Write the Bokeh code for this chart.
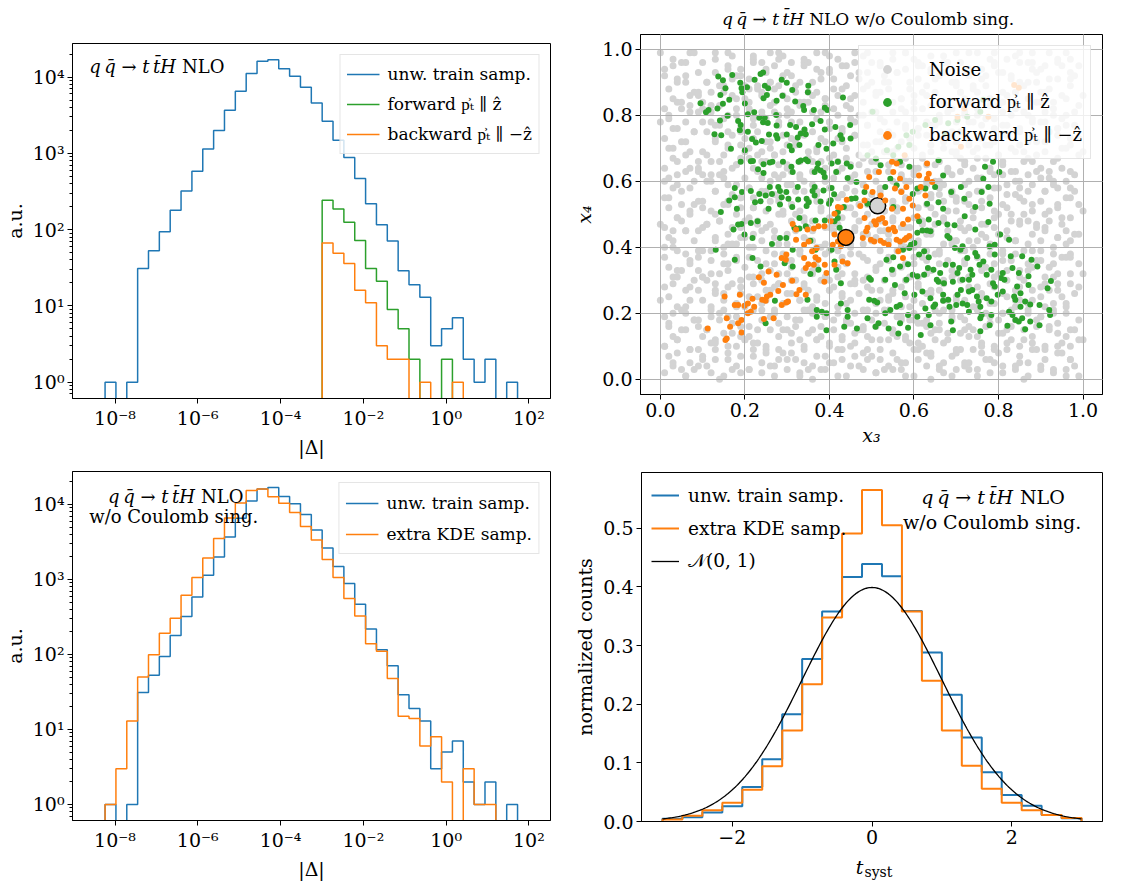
import numpy as np
from bokeh.plotting import figure
from bokeh.models import (FixedTicker, CustomJSTickFormatter, NumeralTickFormatter,
                          Legend, LegendItem, Label, Range1d)
from bokeh.layouts import row, column
from bokeh.embed import file_html
from bokeh.resources import INLINE

FONT = "DejaVu Serif"
BLUE = "#1f77b4"
ORANGE = "#ff7f0e"
GREEN = "#2ca02c"
GRAY = "#d3d3d3"

# ---------------- histogram data (|Delta|, log bins) ----------------
log_bin_lo, log_bin_hi, n_log_bins = -8.24, 1.726, 38
train_counts = [1, 0, 1, 31, 53, 94, 179, 321, 582, 1142,
                1990, 3673, 6530, 11130, 16150, 16830, 12820, 10270, 7370, 4580,
                2637, 1486, 881, 467, 219, 116, 71, 29, 19, 13,
                3, 5, 7, 2, 1, 2, 0, 1]
forward_counts = [0, 0, 0, 0, 0, 0, 0, 0, 0, 0,
                  0, 0, 0, 0, 0, 0, 0, 0, 0, 0,
                  243, 186, 125, 72, 31, 21, 9, 5, 2, 0,
                  0, 2, 0, 0, 0, 0, 0, 0]
backward_counts = [0, 0, 0, 0, 0, 0, 0, 0, 0, 0,
                   0, 0, 0, 0, 0, 0, 0, 0, 0, 0,
                   67, 49, 36, 16, 11, 3, 2, 2, 0, 1,
                   0, 0, 1, 0, 0, 0, 0, 0]
kde_counts = [1, 3, 13, 50, 99, 192, 305, 618, 1065, 1928,
              3530, 6590, 10470, 15360, 16150, 12680, 10370, 7820, 5070, 3355,
              1853, 1065, 559, 327, 139, 110, 48, 15, 14, 6,
              8, 2, 0, 3, 1, 1, 0, 0]

# ---------------- t_syst histograms ----------------
t_lo, t_hi, n_t_bins = -3.0, 3.0, 21
t_train = [0.0045, 0.0074, 0.0153, 0.026, 0.059, 0.106, 0.183, 0.277, 0.358, 0.417, 0.439,
           0.418, 0.359, 0.288, 0.216, 0.143, 0.084, 0.045, 0.027, 0.011, 0.0057]
t_kde = [0.0034, 0.010, 0.019, 0.032, 0.054, 0.094, 0.155, 0.234, 0.348, 0.491, 0.565,
         0.505, 0.358, 0.240, 0.155, 0.095, 0.056, 0.032, 0.019, 0.011, 0.006]

# ---------------- scatter data (x3, x4) ----------------
forward_pts = [
 (0.137,0.918),(0.148,0.906),(0.170,0.922),(0.154,0.882),(0.142,0.862),(0.163,0.847),(0.148,0.835),(0.095,0.837),
 (0.108,0.809),(0.114,0.816),(0.135,0.821),(0.189,0.899),(0.192,0.882),(0.194,0.870),(0.205,0.885),(0.223,0.908),
 (0.237,0.925),(0.243,0.930),(0.247,0.890),(0.255,0.882),(0.244,0.852),(0.252,0.862),(0.287,0.908),(0.299,0.899),
 (0.312,0.877),(0.289,0.859),(0.275,0.844),(0.319,0.842),(0.350,0.890),(0.349,0.870),(0.338,0.828),(0.340,0.816),
 (0.363,0.816),(0.389,0.823),(0.395,0.816),(0.432,0.854),(0.200,0.836),(0.207,0.803),(0.222,0.809),(0.234,0.793),
 (0.247,0.793),(0.243,0.779),(0.254,0.777),(0.274,0.801),(0.275,0.769),(0.307,0.771),(0.321,0.765),(0.341,0.757),
 (0.359,0.773),(0.379,0.783),(0.389,0.757),(0.414,0.765),(0.426,0.740),(0.449,0.771),(0.128,0.743),(0.144,0.740),
 (0.141,0.784),(0.159,0.799),(0.184,0.783),(0.190,0.771),(0.188,0.755),(0.207,0.750),(0.217,0.728),(0.240,0.722),
 (0.226,0.718),(0.257,0.742),(0.274,0.740),(0.277,0.730),(0.299,0.742),(0.306,0.707),(0.311,0.694),(0.325,0.733),
 (0.332,0.745),(0.344,0.743),(0.329,0.710),(0.374,0.710),(0.393,0.699),(0.409,0.715),(0.430,0.728),(0.450,0.730),
 (0.200,0.694),(0.167,0.699),(0.190,0.659),(0.214,0.661),(0.219,0.662),(0.231,0.637),(0.244,0.652),(0.259,0.657),
 (0.265,0.659),(0.244,0.625),(0.290,0.659),(0.310,0.644),(0.313,0.628),(0.327,0.659),(0.332,0.663),(0.344,0.666),
 (0.349,0.661),(0.373,0.654),(0.371,0.639),(0.379,0.633),(0.386,0.626),(0.389,0.613),(0.365,0.628),(0.405,0.654),
 (0.420,0.659),(0.441,0.654),(0.450,0.644),(0.443,0.610),(0.464,0.598),(0.416,0.628),(0.176,0.580),(0.193,0.568),
 (0.176,0.552),(0.163,0.542),(0.181,0.517),(0.214,0.571),(0.234,0.562),(0.249,0.557),(0.259,0.583),(0.264,0.562),
 (0.279,0.583),(0.283,0.571),(0.287,0.552),(0.283,0.530),(0.298,0.568),(0.303,0.547),(0.312,0.522),(0.326,0.545),
 (0.325,0.583),(0.346,0.547),(0.351,0.537),(0.360,0.571),(0.365,0.583),(0.365,0.557),(0.379,0.539),(0.386,0.572),
 (0.405,0.580),(0.411,0.561),(0.403,0.543),(0.434,0.522),(0.452,0.547),(0.462,0.549),(0.143,0.507),(0.224,0.537),
 (0.256,0.517),(0.237,0.540),(0.346,0.525),(0.399,0.532),(0.420,0.507),
 (0.658,0.474),(0.679,0.469),(0.696,0.467),(0.720,0.494),(0.745,0.454),(0.776,0.477),(0.631,0.451),(0.639,0.449),
 (0.620,0.451),(0.608,0.444),(0.601,0.413),(0.684,0.428),(0.679,0.434),(0.697,0.398),(0.715,0.403),(0.710,0.393),
 (0.745,0.383),(0.749,0.373),(0.779,0.403),(0.791,0.408),(0.825,0.423),(0.804,0.439),(0.791,0.378),(0.829,0.373),
 (0.856,0.373),(0.878,0.362),(0.892,0.342),(0.871,0.312),(0.848,0.322),(0.833,0.337),(0.810,0.322),(0.806,0.307),
 (0.783,0.332),(0.772,0.317),(0.764,0.357),(0.755,0.347),(0.734,0.332),(0.726,0.368),(0.707,0.337),(0.703,0.322),
 (0.692,0.347),(0.675,0.347),(0.662,0.322),(0.654,0.302),(0.646,0.332),(0.633,0.337),(0.624,0.317),(0.635,0.370),
 (0.624,0.388),(0.612,0.378),(0.589,0.398),(0.593,0.408),(0.574,0.393),(0.586,0.349),(0.567,0.342),(0.551,0.370),
 (0.535,0.362),(0.548,0.332),(0.532,0.302),(0.494,0.307),(0.498,0.302),(0.555,0.286),(0.582,0.302),(0.608,0.312),
 (0.597,0.317),(0.578,0.261),(0.601,0.256),(0.620,0.266),(0.639,0.246),(0.669,0.256),(0.681,0.241),(0.703,0.256),
 (0.711,0.271),(0.730,0.266),(0.738,0.271),(0.749,0.251),(0.753,0.236),(0.757,0.220),(0.772,0.246),(0.783,0.236),
 (0.791,0.281),(0.798,0.256),(0.810,0.266),(0.787,0.291),(0.814,0.302),(0.837,0.251),(0.840,0.241),(0.852,0.261),
 (0.863,0.236),(0.852,0.220),(0.875,0.227),(0.897,0.225),(0.920,0.210),(0.922,0.195),(0.916,0.276),(0.924,0.298),
 (0.871,0.286),(0.844,0.281),(0.825,0.205),(0.833,0.195),(0.840,0.180),(0.856,0.185),(0.848,0.175),(0.875,0.175),
 (0.897,0.164),(0.863,0.152),(0.821,0.162),(0.783,0.195),(0.779,0.164),(0.757,0.185),(0.760,0.195),(0.730,0.205),
 (0.726,0.225),(0.715,0.230),(0.700,0.225),(0.684,0.220),(0.669,0.238),(0.688,0.175),(0.692,0.149),(0.757,0.146),
 (0.635,0.195),(0.639,0.164),(0.646,0.220),(0.627,0.215),(0.608,0.190),(0.586,0.195),(0.567,0.225),(0.559,0.220),
 (0.544,0.210),(0.532,0.200),(0.506,0.238),(0.513,0.233),(0.494,0.241),(0.490,0.185),(0.509,0.159),(0.516,0.170),
 (0.540,0.154),(0.563,0.139),(0.567,0.170),(0.586,0.156),(0.616,0.134),(0.650,0.227),(0.671,0.291),(0.658,0.296),
 (0.692,0.296),(0.715,0.302),(0.730,0.302),(0.738,0.317),(0.612,0.479),(0.635,0.484),
 (0.173,0.454),(0.184,0.469),(0.192,0.471),(0.199,0.439),(0.214,0.474),(0.218,0.428),(0.230,0.479),(0.131,0.393),
 (0.176,0.362),(0.218,0.368),(0.237,0.342),(0.264,0.410),(0.283,0.428),(0.298,0.428),(0.313,0.393),(0.317,0.459),
 (0.329,0.457),(0.344,0.464),(0.355,0.420),(0.367,0.481),(0.389,0.481),(0.412,0.479),(0.420,0.489),(0.424,0.459),
 (0.367,0.393),(0.374,0.332),(0.412,0.357),(0.416,0.332),(0.427,0.291),(0.355,0.319),(0.348,0.241),(0.370,0.210),
 (0.370,0.190),(0.382,0.205),(0.393,0.200),(0.393,0.149),(0.427,0.230),(0.443,0.210),(0.443,0.190),(0.435,0.159),
 (0.465,0.154),(0.249,0.170),(0.271,0.238),(0.313,0.342),(0.294,0.352),(0.329,0.489),(0.405,0.393),
 (0.502,0.811),(0.490,0.679),(0.510,0.669),(0.521,0.649),(0.551,0.679),(0.567,0.659),(0.589,0.644),(0.608,0.578),
 (0.597,0.562),(0.627,0.578),(0.650,0.583),(0.658,0.537),(0.669,0.517),(0.631,0.532),(0.658,0.664),(0.669,0.618),
 (0.688,0.568),(0.711,0.583),(0.719,0.547),(0.745,0.522),(0.760,0.568),(0.764,0.608),(0.768,0.644),(0.776,0.583),
 (0.779,0.532),(0.787,0.659),(0.802,0.628),(0.483,0.568),(0.490,0.532),(0.544,0.608),(0.532,0.583),(0.559,0.588),
 (0.551,0.522),(0.582,0.740),(0.597,0.750),(0.627,0.771),(0.650,0.786),(0.681,0.776),(0.703,0.786),(0.726,0.796),
 (0.757,0.811),(0.764,0.847),(0.673,0.745),(0.589,0.710),(0.563,0.705),(0.536,0.694),
]

backward_pts = [
 (0.313,0.471),(0.321,0.454),(0.348,0.454),(0.363,0.457),(0.374,0.464),(0.388,0.464),(0.403,0.479),(0.412,0.439),
 (0.408,0.408),(0.420,0.418),(0.427,0.403),(0.321,0.423),(0.340,0.408),(0.351,0.418),(0.359,0.388),(0.370,0.398),
 (0.374,0.362),(0.367,0.370),(0.350,0.349),(0.340,0.368),(0.363,0.347),(0.344,0.337),(0.389,0.347),(0.393,0.322),
 (0.388,0.296),(0.412,0.347),(0.431,0.357),(0.443,0.352),(0.298,0.378),(0.287,0.368),(0.297,0.362),(0.256,0.327),
 (0.275,0.317),(0.233,0.309),(0.245,0.293),(0.290,0.286),(0.312,0.299),(0.329,0.271),(0.344,0.256),(0.322,0.258),
 (0.279,0.268),(0.260,0.256),(0.241,0.241),(0.249,0.238),(0.218,0.244),(0.207,0.230),(0.188,0.256),(0.152,0.251),
 (0.176,0.225),(0.184,0.225),(0.199,0.223),(0.207,0.200),(0.214,0.205),(0.222,0.220),(0.192,0.180),(0.184,0.170),
 (0.157,0.185),(0.165,0.159),(0.192,0.142),(0.154,0.119),(0.157,0.124),(0.112,0.154),(0.245,0.183),(0.268,0.185),
 (0.287,0.225),(0.298,0.233),(0.302,0.236),(0.252,0.251),
 (0.483,0.489),(0.490,0.459),(0.487,0.449),(0.506,0.479),(0.510,0.469),(0.517,0.484),(0.525,0.489),(0.532,0.474),
 (0.540,0.454),(0.551,0.459),(0.555,0.449),(0.574,0.471),(0.582,0.428),(0.578,0.423),(0.589,0.434),(0.586,0.484),
 (0.608,0.494),(0.479,0.428),(0.498,0.423),(0.506,0.418),(0.521,0.420),(0.529,0.413),(0.540,0.408),(0.563,0.388),
 (0.574,0.368),(0.559,0.423),(0.567,0.418),
 (0.578,0.679),(0.559,0.654),(0.548,0.659),(0.551,0.628),(0.567,0.608),(0.582,0.583),(0.555,0.578),(0.570,0.568),
 (0.589,0.547),(0.517,0.628),(0.494,0.613),(0.487,0.583),(0.502,0.568),(0.521,0.557),(0.483,0.542),(0.532,0.542),
 (0.548,0.517),(0.574,0.517),(0.597,0.527),(0.631,0.654),(0.635,0.623),(0.631,0.608),(0.643,0.598),(0.612,0.618),
 (0.616,0.583),(0.627,0.557),(0.711,0.705),(0.703,0.796),(0.719,0.821),(0.776,0.796),(0.837,0.892),(0.848,0.884),
 (0.441,0.544),(0.420,0.522),(0.427,0.520),(0.473,0.525),(0.412,0.502),
]

# marked points (x3, x4): one in the noise set, one in the backward set
noise_mark_x, noise_mark_y = [0.514], [0.526]
backward_mark_x, backward_mark_y = [0.439], [0.430]

# noise points (percent), read along horizontal strips: x positions and their y
noise_row_x = [
 [1,6,8,14,19,21,27,33,36,38,44,51,53,58,64,67,73,75,81,86,90,96],
 [3,5,11,13,17,24,26,30,35,41,43,47,55,57,61,66,70,72,78,84,87,93,98],
 [2,7,10,16,22,25,29,32,39,42,48,50,56,60,63,69,74,77,80,85,89,95,97],
 [1,4,9,12,18,20,23,28,34,37,40,45,49,54,59,62,65,71,76,79,83,88,91,94,99],
 [3,6,13,15,21,26,31,33,36,43,46,52,55,58,64,68,72,75,81,86,92,96],
 [2,8,11,17,19,24,28,30,38,41,44,48,51,57,61,66,69,73,78,82,84,89,94,97],
 [1,5,9,14,16,22,27,32,35,39,46,50,53,56,60,63,67,71,77,80,87,90,93,99],
 [4,7,12,18,20,25,29,34,37,42,44,49,54,59,62,65,70,74,79,83,85,91,96],
 [2,6,10,15,23,26,31,33,40,43,47,52,55,58,64,68,73,76,81,88,92,95,98],
 [1,8,13,17,19,24,28,35,38,41,45,50,53,57,61,66,71,75,78,84,86,90,94],
 [3,5,11,14,21,26,30,32,36,39,46,48,55,59,63,67,69,73,80,82,87,93,97],
 [2,7,9,16,20,23,27,34,37,42,44,51,54,57,60,64,72,77,79,85,89,92,99],
 [1,4,12,15,18,25,29,31,40,43,47,49,56,62,65,68,71,75,81,83,88,95,97],
 [3,8,10,17,22,24,28,33,36,38,45,52,54,58,61,66,70,74,78,86,90,93,96],
 [2,6,13,16,20,27,30,35,41,44,48,50,53,59,63,69,72,77,80,84,91,94,98],
 [1,5,9,11,19,23,26,32,34,39,42,46,55,57,62,64,67,73,76,82,87,89,95],
 [4,7,14,18,21,25,29,36,38,43,49,52,56,60,65,71,74,79,83,85,92,97],
 [2,9,12,15,22,28,31,33,40,45,47,53,58,61,63,68,70,76,81,88,90,94,99],
 [1,5,10,17,19,24,27,35,37,42,50,55,57,64,66,72,75,78,84,86,91,96],
 [3,8,13,16,21,26,30,32,39,44,48,52,59,62,67,69,73,80,82,87,93,97],
 [2,6,11,14,20,23,29,34,36,41,46,51,54,57,60,65,71,76,79,85,89,92,98],
 [1,4,9,18,22,25,28,31,38,43,45,49,56,61,63,68,72,74,81,83,88,95],
 [3,7,12,15,19,24,27,33,35,40,47,50,53,58,62,66,70,77,80,86,91,94,99],
 [2,5,10,16,21,26,30,37,39,44,48,55,57,60,64,69,73,75,78,84,89,96],
 [1,8,13,17,20,23,29,32,34,42,46,51,54,59,63,67,71,76,82,87,92,97],
 [4,6,11,14,19,25,28,36,40,43,49,52,56,61,65,69,74,79,81,85,90,94,98],
 [2,9,12,16,22,27,30,33,38,45,47,53,58,60,66,70,72,77,83,88,91,95],
 [1,5,7,14,18,21,26,31,35,41,44,50,55,62,64,68,73,75,80,86,89,93,99],
 [3,8,10,17,20,24,29,34,37,39,46,48,52,57,60,67,71,78,82,84,91,96],
 [2,6,12,15,23,26,28,32,36,43,49,51,54,59,63,65,70,74,77,81,87,92,97],
 [4,9,11,18,21,25,31,33,38,41,45,53,56,61,66,69,72,76,83,85,89,94,98],
 [1,5,13,16,19,24,27,30,35,40,44,47,50,58,62,64,68,73,79,81,88,90,95],
 [3,7,10,17,22,26,29,34,39,42,48,52,55,60,67,71,75,78,84,87,92,97],
]
noise_row_y = [
 [2,1,3,0,2,3,1,2,0,3,1,2,3,1,0,2,3,1,2,0,3,1],
 [5,3,4,6,3,5,4,6,3,5,6,4,3,5,6,4,3,5,6,4,5,3,4],
 [7,9,6,8,7,9,8,6,7,9,8,7,6,9,8,7,9,6,8,7,9,8,6],
 [10,12,9,11,10,12,11,9,10,12,11,10,9,12,11,10,12,9,11,10,12,11,9,10,12],
 [13,15,12,14,13,15,14,12,15,13,14,12,15,13,14,12,15,13,14,12,15,13],
 [16,18,15,17,16,18,17,15,16,18,17,15,16,18,17,15,18,16,17,15,18,16,17,15],
 [19,21,18,20,19,21,20,18,21,19,20,18,21,19,20,18,21,19,20,18,21,19,20,18],
 [22,24,21,23,22,24,23,21,24,22,23,21,24,22,23,21,24,22,23,21,24,22,23],
 [25,27,24,26,25,27,26,24,27,25,26,24,27,25,26,24,27,25,26,24,27,25,26],
 [28,30,27,29,28,30,29,27,30,28,29,27,30,28,29,27,30,28,29,27,30,28,29],
 [31,33,30,32,31,33,32,30,33,31,32,30,33,31,32,30,33,31,32,30,33,31,32],
 [34,36,33,35,34,36,35,33,36,34,35,33,36,34,35,33,36,34,35,33,36,34,35],
 [37,39,36,38,37,39,38,36,39,37,38,36,39,37,38,36,39,37,38,36,39,37,38],
 [40,42,39,41,40,42,41,39,42,40,41,39,42,40,41,39,42,40,41,39,42,40,41],
 [43,45,42,44,43,45,44,42,45,43,44,42,45,43,44,42,45,43,44,42,45,43,44],
 [46,48,45,47,46,48,47,45,48,46,47,45,48,46,47,45,48,46,47,45,48,46,47],
 [49,51,48,50,49,51,50,48,51,49,50,48,51,49,50,48,51,49,50,48,51,49],
 [52,54,51,53,52,54,53,51,54,52,53,51,54,52,53,51,54,52,53,51,54,52,53],
 [55,57,54,56,55,57,56,54,57,55,56,54,57,55,56,54,57,55,56,54,57,55],
 [58,60,57,59,58,60,59,57,60,58,59,57,60,58,59,57,60,58,59,57,60,58],
 [61,63,60,62,61,63,62,60,63,61,62,60,63,61,62,60,63,61,62,60,63,61,62],
 [64,66,63,65,64,66,65,63,66,64,65,63,66,64,65,63,66,64,65,63,66,64],
 [67,69,66,68,67,69,68,66,69,67,68,66,69,67,68,66,69,67,68,66,69,67,68],
 [70,72,69,71,70,72,71,69,72,70,71,69,72,70,71,69,72,70,71,69,72,70],
 [73,75,72,74,73,75,74,72,75,73,74,72,75,73,74,72,75,73,74,72,75,73],
 [76,78,75,77,76,78,77,75,78,76,77,75,78,76,77,75,78,76,77,75,78,76,77],
 [79,81,78,80,79,81,80,78,81,79,80,78,81,79,80,78,81,79,80,78,81,79],
 [82,84,81,83,82,84,83,81,84,82,83,81,84,82,83,81,84,82,83,81,84,82,83],
 [85,87,84,86,85,87,86,84,87,85,86,84,87,85,86,84,87,85,86,84,87,85],
 [88,90,87,89,88,90,89,87,90,88,89,87,90,88,89,87,90,88,89,87,90,88,89],
 [91,93,90,92,91,93,92,90,93,91,92,90,93,91,92,90,93,91,92,90,93,91,92],
 [94,96,93,95,94,96,95,93,96,94,95,93,96,94,95,93,96,94,95,93,96,94,95],
 [97,99,96,98,97,99,98,96,99,97,98,96,99,97,98,96,99,97,98,96,99,97],
]
# noise points (percent), read along vertical strips: y positions and their x
noise_col_y = [
 [4,10,12,17,24,29,31,40,42,47,49,55,60,62,70,78,80,84,92,95,99],
 [1,8,9,15,20,22,28,33,38,45,50,53,59,64,68,76,82,86,90,96],
 [4,5,13,18,20,27,31,35,37,45,46,53,58,62,66,72,75,82,83,87,92,99],
 [2,7,11,15,16,22,26,31,32,39,43,47,52,57,60,64,68,73,78,81,86,90,97],
 [1,9,10,18,19,24,28,29,35,39,41,48,50,54,61,62,66,70,77,79,83,89,94,99],
 [4,6,13,14,21,22,26,33,36,40,43,46,53,55,59,63,64,71,75,80,87,91,92,99],
 [3,7,11,12,19,25,29,30,37,41,44,48,52,55,58,65,69,73,75,82,85,89,96],
 [2,9,10,15,16,23,27,31,32,40,46,47,52,56,61,67,68,72,77,81,88,89,94,98],
 [4,8,13,19,21,28,29,35,38,45,50,54,57,61,62,66,70,78,79,84,86,90,97],
 [3,6,11,15,21,26,30,32,36,43,48,51,55,59,64,68,69,73,80,82,88,92,96,99],
 [1,8,9,16,19,24,28,34,38,41,43,50,53,57,61,65,71,75,78,84,85,89,95],
 [4,5,12,14,18,22,25,29,32,39,40,46,49,56,59,62,67,70,74,81,83,87,94,97],
 [3,7,10,13,20,23,27,34,38,45,46,52,54,58,60,66,73,78,79,85,86,91,93,99],
 [1,5,12,15,19,20,26,30,31,41,42,47,49,56,63,64,68,72,76,80,83,88,95,98],
 [4,9,11,18,22,24,29,32,38,39,46,52,56,57,61,66,67,74,75,82,86,89,96],
 [3,7,13,15,17,21,28,30,37,40,44,48,50,53,59,60,65,71,78,80,85,91,93,99],
 [2,6,9,12,16,23,27,31,34,41,45,47,54,58,63,67,69,72,77,81,88,90,95,99],
 [4,6,14,17,20,25,26,35,37,43,49,51,56,60,65,66,73,74,79,84,86,92,97],
 [3,8,12,13,21,22,30,32,40,44,46,52,53,60,62,69,70,76,81,82,88,93,99],
 [1,5,11,18,19,24,28,35,37,41,42,46,55,57,64,65,71,76,77,84,85,90,95,99],
 [4,9,8,17,18,26,27,31,39,40,44,48,49,56,59,63,67,69,74,78,82,87,94,96],
 [3,7,11,15,16,20,24,33,35,36,41,47,52,54,58,60,65,70,77,79,86,91,93,98],
 [1,5,9,14,17,21,25,29,31,38,42,45,49,55,56,60,64,68,73,74,78,83,89,96],
 [4,8,13,14,19,24,28,32,35,41,42,46,51,53,59,62,67,71,72,80,82,87,92,99],
 [3,5,10,15,18,22,26,31,37,39,44,49,56,57,61,65,69,73,78,80,85,89,94,99],
 [2,8,9,16,21,23,31,33,38,42,46,47,54,58,63,67,71,72,77,83,87,92,96],
 [4,5,11,14,19,20,25,28,36,40,43,50,51,56,62,64,68,74,79,81,85,93,97,99],
 [3,9,10,16,20,24,28,33,38,39,47,48,52,58,60,66,70,71,77,82,84,91,96],
 [1,5,13,15,22,23,27,31,35,42,44,50,55,59,62,63,69,74,76,80,87,89,94,99],
 [4,9,10,18,20,25,31,34,39,41,46,47,53,57,61,67,68,72,79,84,85,90,95,99],
 [2,6,14,16,19,23,27,29,35,36,43,48,50,58,59,64,63,74,78,80,87,91,96],
 [3,8,10,11,21,22,29,32,37,38,42,49,53,55,60,66,70,71,76,77,84,86,93,97],
 [1,6,12,15,20,28,32,37,44,45,51,57,63,69,73,80,81,86,91,95,99],
]
noise_col_x = [
 [3,1,4,2,0,3,4,1,3,0,4,2,1,4,3,0,2,4,1,3,0],
 [6,4,7,5,3,6,7,4,6,3,7,5,4,7,6,3,5,7,4,6],
 [9,7,10,8,6,9,10,7,9,6,10,8,7,10,9,6,8,10,7,9,6,8],
 [12,10,13,11,9,12,13,10,12,9,13,11,10,13,12,9,11,13,10,12,9,11,13],
 [15,13,16,14,12,15,16,13,15,12,16,14,13,16,15,12,14,16,13,15,12,14,16,13],
 [18,16,19,17,15,18,19,16,18,15,19,17,16,19,18,15,17,19,16,18,15,17,19,16],
 [21,19,22,20,18,21,22,19,21,18,22,20,19,22,21,18,20,22,19,21,18,20,22],
 [24,22,25,23,21,24,25,22,24,21,25,23,22,25,24,21,23,25,22,24,21,23,25,22],
 [27,25,28,26,24,27,28,25,27,24,28,26,25,28,27,24,26,28,25,27,24,26,28],
 [30,28,31,29,27,30,31,28,30,27,31,29,28,31,30,27,29,31,28,30,27,29,31,28],
 [33,31,34,32,30,33,34,31,33,30,34,32,31,34,33,30,32,34,31,33,30,32,34],
 [36,34,37,35,33,36,37,34,36,33,37,35,34,37,36,33,35,37,34,36,33,35,37,34],
 [39,37,40,38,36,39,40,37,39,36,40,38,37,40,39,36,38,40,37,39,36,38,40,37],
 [42,40,43,41,39,42,43,40,42,39,43,41,40,43,42,39,41,43,40,42,39,41,43,40],
 [45,43,46,44,42,45,46,43,45,42,46,44,43,46,45,42,44,46,43,45,42,44,46],
 [48,46,49,47,45,48,49,46,48,45,49,47,46,49,48,45,47,49,46,48,45,47,49,46],
 [51,49,52,50,48,51,52,49,51,48,52,50,49,52,51,48,50,52,49,51,48,50,52,49],
 [54,52,55,53,51,54,55,52,54,51,55,53,52,55,54,51,53,55,52,54,51,53,55],
 [57,55,58,56,54,57,58,55,57,54,58,56,55,58,57,54,56,58,55,57,54,56,58],
 [60,58,61,59,57,60,61,58,60,57,61,59,58,61,60,57,59,61,58,60,57,59,61,58],
 [63,61,64,62,60,63,64,61,63,60,64,62,61,64,63,60,62,64,61,63,60,62,64,61],
 [66,64,67,65,63,66,67,64,66,63,67,65,64,67,66,63,65,67,64,66,63,65,67,64],
 [69,67,70,68,66,69,70,67,69,66,70,68,67,70,69,66,68,70,67,69,66,68,70,67],
 [72,70,73,71,69,72,73,70,72,69,73,71,70,73,72,69,71,73,70,72,69,71,73,70],
 [75,73,76,74,72,75,76,73,75,72,76,74,73,76,75,72,74,76,73,75,72,74,76,73],
 [78,76,79,77,75,78,79,76,78,75,79,77,76,79,78,75,77,79,76,78,75,77,79],
 [81,79,82,80,78,81,82,79,81,78,82,80,79,82,81,78,80,82,79,81,78,80,82,79],
 [84,82,85,83,81,84,85,82,84,81,85,83,82,85,84,81,83,85,82,84,81,83,85],
 [87,85,88,86,84,87,88,85,87,84,88,86,85,88,87,84,86,88,85,87,84,86,88,85],
 [90,88,91,89,87,90,91,88,90,87,91,89,88,91,90,87,89,91,88,90,87,89,91,88],
 [93,91,94,92,90,93,94,91,93,90,94,92,91,94,93,90,92,94,91,93,90,92,94],
 [96,94,97,95,93,96,97,94,96,93,97,95,94,97,96,93,95,97,94,96,93,95,97,94],
 [99,97,100,98,96,99,100,97,99,96,100,98,97,100,99,96,98,100,97,99,96],
]

# ---------------- texts ----------------
PROC_IT = "q\u2009q\u0304 \u2192 t\u2009t\u0304H"
LBL_TRAIN = "unw. train samp."
LBL_KDE = "extra KDE samp."
LBL_FWD = "forward p\u0350\u209c \u2225 z\u0302"
LBL_BWD = "backward p\u0350\u209c \u2225 \u2212z\u0302"
LBL_NOISE = "Noise"
LBL_NORMAL = "\U0001d4a9(0, 1)"

LOG_FMT = CustomJSTickFormatter(code="""
const e = Math.round(Math.log10(tick));
const m = {'-':'\u207b','0':'\u2070','1':'\u00b9','2':'\u00b2','3':'\u00b3','4':'\u2074',
           '5':'\u2075','6':'\u2076','7':'\u2077','8':'\u2078','9':'\u2079'};
let s = '';
for (const c of String(e)) { s += m[c]; }
return '10' + s;
""")
MINUS_FMT = CustomJSTickFormatter(code="return tick < 0 ? '\u2212' + Math.abs(tick) : String(tick);")


def step_xy(edges, counts, floor):
    xs, ys = [edges[0]], [floor]
    for i, c in enumerate(counts):
        v = c if c > 0 else floor
        xs += [edges[i], edges[i + 1]]
        ys += [v, v]
    xs.append(edges[-1])
    ys.append(floor)
    return xs, ys


def make_fig(w, h, l, r, t, b, **kw):
    p = figure(width=w, height=h, min_border_left=l, min_border_right=r,
               min_border_top=t, min_border_bottom=b, output_backend="svg",
               toolbar_location=None, **kw)
    p.outline_line_color = "black"
    p.outline_line_alpha = 1.0
    p.outline_line_width = 1
    p.background_fill_color = "white"
    p.border_fill_color = "white"
    for ax in (p.xaxis[0], p.yaxis[0]):
        ax.axis_line_color = "black"
        ax.major_tick_line_color = "black"
        ax.minor_tick_line_color = "black"
        ax.major_tick_out = 5
        ax.major_tick_in = 0
        ax.minor_tick_out = 3
        ax.minor_tick_in = 0
        ax.major_label_text_font = FONT
        ax.major_label_text_font_size = "19px"
        ax.major_label_text_color = "black"
        ax.major_label_standoff = 3
        ax.axis_label_text_font = FONT
        ax.axis_label_text_font_size = "19px"
        ax.axis_label_text_font_style = "normal"
        ax.axis_label_text_color = "black"
        ax.axis_label_standoff = 4
    return p


def text_strip(w, h, l, r):
    # a blank strip with the same side borders as the plot it sits on; x in px from frame left
    f = figure(width=w, height=h, x_range=Range1d(0, w - l - r), y_range=Range1d(0, h),
               min_border=0, min_border_left=l, min_border_right=r, min_border_top=0,
               min_border_bottom=0, x_axis_location=None, y_axis_location=None,
               toolbar_location=None, output_backend="svg")
    f.outline_line_color = None
    f.background_fill_color = "white"
    f.border_fill_color = "white"
    for g in f.grid:
        g.visible = False
    return f


def add_text(p, x, y, text, italic=False, align="left", size="18px"):
    p.add_layout(Label(x=x, y=y, text=text, text_font=FONT, text_font_size=size,
                       text_font_style="italic" if italic else "normal",
                       text_align=align, text_baseline="middle", text_color="black"))


def style_legend(leg, size="17px", gw=33, gh=26, lh=26, sp=4, pad=6, margin=11, standoff=8, frame=True):
    leg.label_text_font = FONT
    leg.label_text_font_size = size
    leg.label_text_color = "black"
    leg.glyph_width = gw
    leg.glyph_height = gh
    leg.label_height = lh
    leg.spacing = sp
    leg.padding = pad
    leg.margin = margin
    leg.label_standoff = standoff
    if frame:
        leg.border_line_color = "#cccccc"
        leg.border_line_width = 1
        leg.background_fill_color = "white"
        leg.background_fill_alpha = 0.8
    else:
        leg.border_line_color = None
        leg.background_fill_alpha = 0.0


log_edges = 10 ** np.linspace(log_bin_lo, log_bin_hi, n_log_bins + 1)
FLOOR = 1e-3
x_log_range = (10 ** -9.027, 10 ** 2.522)
y_log_range = (10 ** -0.214, 10 ** 4.44)
y_major = [1, 10, 100, 1000, 10000]
y_minor = [k * 10.0 ** e for e in range(-1, 5) for k in range(2, 10)]
x_major = [1e-8, 1e-6, 1e-4, 1e-2, 1, 100]


def log_hist_fig(w, h, l, r, t, b):
    p = make_fig(w, h, l, r, t, b, x_axis_type="log", y_axis_type="log",
                 x_range=Range1d(*x_log_range), y_range=Range1d(*y_log_range))
    p.grid.visible = False
    p.xaxis.ticker = FixedTicker(ticks=x_major, minor_ticks=[])
    p.yaxis.ticker = FixedTicker(ticks=y_major, minor_ticks=y_minor)
    p.xaxis.formatter = LOG_FMT
    p.yaxis.formatter = LOG_FMT
    p.xaxis.axis_label = "|\u0394|"
    p.yaxis.axis_label = "a.u."
    return p


# ================= panel 1 =================
p1 = log_hist_fig(570, 462, 70, 20, 43, 64)
xs, ys = step_xy(log_edges, train_counts, FLOOR)
r1b = p1.line(xs, ys, line_color=BLUE, line_width=1.5)
xs, ys = step_xy(log_edges, forward_counts, FLOOR)
r1g = p1.line(xs, ys, line_color=GREEN, line_width=1.5)
xs, ys = step_xy(log_edges, backward_counts, FLOOR)
r1o = p1.line(xs, ys, line_color=ORANGE, line_width=1.5)
leg1 = Legend(items=[LegendItem(label=LBL_TRAIN, renderers=[r1b]),
                     LegendItem(label=LBL_FWD, renderers=[r1g]),
                     LegendItem(label=LBL_BWD, renderers=[r1o])], location="top_right")
style_legend(leg1)
p1.add_layout(leg1)
add_text(p1, 10 ** -6.525, 10 ** 4.143, PROC_IT, italic=True, align="right")
add_text(p1, 10 ** -6.381, 10 ** 4.143, "NLO")

# ================= panel 3 =================
p3 = log_hist_fig(570, 420, 70, 20, 9, 56)
xs, ys = step_xy(log_edges, train_counts, FLOOR)
r3b = p3.line(xs, ys, line_color=BLUE, line_width=1.5)
xs, ys = step_xy(log_edges, kde_counts, FLOOR)
r3o = p3.line(xs, ys, line_color=ORANGE, line_width=1.5)
leg3 = Legend(items=[LegendItem(label=LBL_TRAIN, renderers=[r3b]),
                     LegendItem(label=LBL_KDE, renderers=[r3o])], location="top_right")
style_legend(leg3, lh=27)
p3.add_layout(leg3)
add_text(p3, 10 ** -6.068, 10 ** 4.111, PROC_IT, italic=True, align="right")
add_text(p3, 10 ** -5.923, 10 ** 4.111, "NLO")
add_text(p3, 10 ** -6.58, 10 ** 3.836, "w/o Coulomb sing.", align="center")

# ================= panel 2 =================
p2_title = text_strip(552, 32, 69, 20)
add_text(p2_title, 164, 14, PROC_IT, italic=True, align="right", size="17px")
add_text(p2_title, 169, 14, "NLO w/o Coulomb sing.", size="17px")

p2 = make_fig(552, 430, 69, 20, 2, 68,
              x_range=Range1d(-0.047, 1.046), y_range=Range1d(-0.046, 1.045))
ticks01 = [0.0, 0.2, 0.4, 0.6, 0.8, 1.0]
p2.xaxis.ticker = FixedTicker(ticks=ticks01, minor_ticks=[])
p2.yaxis.ticker = FixedTicker(ticks=ticks01, minor_ticks=[])
p2.xaxis.formatter = NumeralTickFormatter(format="0.0")
p2.yaxis.formatter = NumeralTickFormatter(format="0.0")
p2.grid.grid_line_color = "#b0b0b0"
p2.grid.grid_line_width = 1
p2.grid.level = "annotation"
p2.xaxis.axis_label = "x\u2083"
p2.yaxis.axis_label = "x\u2084"
p2.xaxis.axis_label_text_font_style = "italic"
p2.yaxis.axis_label_text_font_style = "italic"

noise_x, noise_y = [], []
for rx, ry in zip(noise_row_x, noise_row_y):
    for a, bb in zip(rx, ry):
        noise_x.append(a / 100.0)
        noise_y.append(bb / 100.0)
for cy, cx in zip(noise_col_y, noise_col_x):
    for a, bb in zip(cx, cy):
        noise_x.append(a / 100.0)
        noise_y.append(bb / 100.0)
r2n = p2.scatter(noise_x, noise_y, size=7, fill_color=GRAY, line_color=None)
p2.scatter(noise_mark_x, noise_mark_y, size=16, fill_color=GRAY, line_color="black", line_width=1.5)
r2g = p2.scatter([q[0] for q in forward_pts], [q[1] for q in forward_pts], size=6,
                 fill_color=GREEN, line_color=None)
r2o = p2.scatter([q[0] for q in backward_pts], [q[1] for q in backward_pts], size=6,
                 fill_color=ORANGE, line_color=None)
p2.scatter(backward_mark_x, backward_mark_y, size=16, fill_color=ORANGE, line_color="black", line_width=1.5)
leg2 = Legend(items=[LegendItem(label=LBL_NOISE, renderers=[r2n]),
                     LegendItem(label=LBL_FWD, renderers=[r2g]),
                     LegendItem(label=LBL_BWD, renderers=[r2o])], location="top_right")
style_legend(leg2, size="18px", gw=40, gh=22, lh=30, sp=3, pad=8, margin=11, standoff=22)
p2.add_layout(leg2)

# ================= panel 4 =================
p4 = make_fig(552, 390, 71, 20, 10, 31,
              x_range=Range1d(-3.3, 3.3), y_range=Range1d(0, 0.595))
p4.grid.visible = False
p4.xaxis.ticker = FixedTicker(ticks=[-2, 0, 2], minor_ticks=[])
p4.yaxis.ticker = FixedTicker(ticks=[0.0, 0.1, 0.2, 0.3, 0.4, 0.5], minor_ticks=[])
p4.xaxis.formatter = MINUS_FMT
p4.yaxis.formatter = NumeralTickFormatter(format="0.0")
p4.yaxis.axis_label = "normalized counts"
t_edges = list(np.linspace(t_lo, t_hi, n_t_bins + 1))
xs, ys = step_xy(t_edges, t_train, 0.0)
r4b = p4.line(xs, ys, line_color=BLUE, line_width=2)
xs, ys = step_xy(t_edges, t_kde, 0.0)
r4o = p4.line(xs, ys, line_color=ORANGE, line_width=2)
tg = np.linspace(-3, 3, 301)
r4n = p4.line(tg, np.exp(-tg ** 2 / 2) / np.sqrt(2 * np.pi), line_color="black", line_width=1.3)
leg4 = Legend(items=[LegendItem(label=LBL_TRAIN, renderers=[r4b]),
                     LegendItem(label=LBL_KDE, renderers=[r4o]),
                     LegendItem(label=LBL_NORMAL, renderers=[r4n])], location="top_left")
style_legend(leg4, size="18.5px", gw=28, gh=26, lh=26, sp=7, pad=10, margin=10, standoff=9, frame=False)
p4.add_layout(leg4)
add_text(p4, 2.018, 0.553, PROC_IT, italic=True, align="right", size="19px")
add_text(p4, 2.118, 0.553, "NLO", size="19px")
add_text(p4, 1.72, 0.511, "w/o Coulomb sing.", align="center", size="19px")

p4_xlabel = text_strip(552, 30, 71, 20)
add_text(p4_xlabel, 218, 16, "t", italic=True, align="center", size="19px")
add_text(p4_xlabel, 223, 11, "syst", size="14px")

layout = column(row(p1, column(p2_title, p2)), row(p3, column(p4, p4_xlabel)))
open("out.html", "w").write(file_html(layout, INLINE))
